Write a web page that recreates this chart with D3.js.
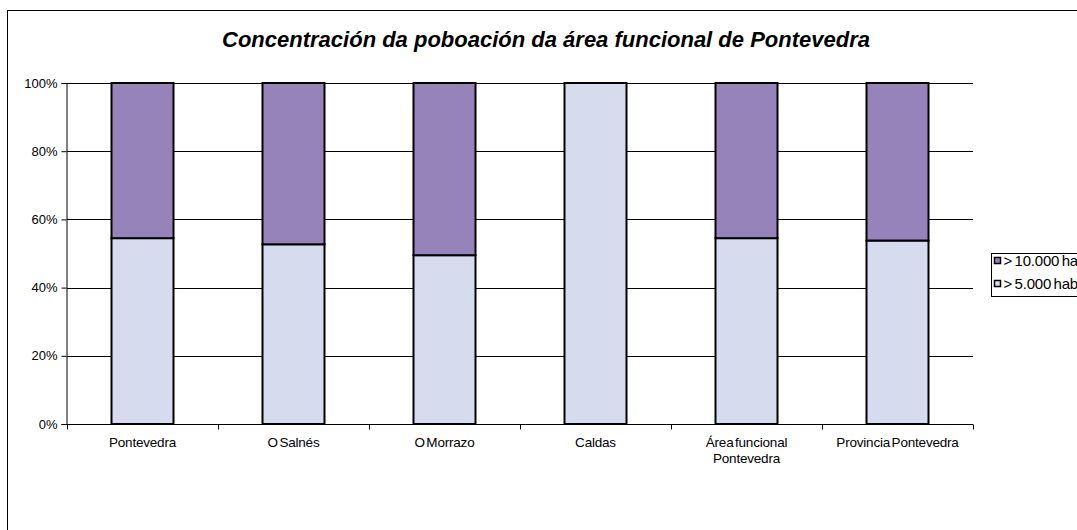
<!DOCTYPE html>
<html>
<head>
<meta charset="utf-8">
<script src="https://cdn.jsdelivr.net/npm/d3@7"></script>
<style>
  body { margin: 0; background: #fff; }
  svg { font-family: "Liberation Sans", Arial, sans-serif; display: block; }
</style>
</head>
<body>
<div id="chart"></div>
<script>
// Data (share of population, %)
const categories = ["Pontevedra", "O Salnés", "O Morrazo", "Caldas", "Área funcional Pontevedra", "Provincia Pontevedra"];
const over5000 = [54.5, 52.7, 49.5, 100, 54.5, 53.8];
const over10000 = [45.5, 47.3, 50.5, 0, 45.5, 46.2];
const seriesNames = ["> 10.000 hab", "> 5.000 hab"];
const yTicks = [0, 20, 40, 60, 80, 100];

const width = 1077;
const height = 530;
const margin = { top: 83, left: 67 };
const plotW = 906;
const plotH = 341;

const colors = { low: "#d6dcee", high: "#9683ba" };

const svg = d3.select("#chart")
    .append("svg")
    .attr("width", width)
    .attr("height", height);

// Outer chart frame (runs past the right and bottom edges)
svg.append("rect")
    .attr("x", 7.5)
    .attr("y", 10.5)
    .attr("width", 1200)
    .attr("height", 600)
    .attr("fill", "none")
    .attr("stroke", "#000")
    .attr("stroke-width", 1);

svg.append("text")
    .attr("x", 546)
    .attr("y", 47)
    .attr("text-anchor", "middle")
    .style("font-size", "22px")
    .style("font-weight", "bold")
    .style("font-style", "italic")
    .text("Concentración da poboación da área funcional de Pontevedra");

const g = svg.append("g")
    .attr("transform", `translate(${margin.left}, ${margin.top})`);

const x = d3.scaleBand().domain(categories).range([0, plotW]);
const y = d3.scaleLinear().domain([0, 100]).range([plotH, 0]);

// Gridlines
g.selectAll("line.grid")
    .data(yTicks.filter(d => d > 0))
    .enter()
    .append("line")
    .attr("class", "grid")
    .attr("x1", 0)
    .attr("x2", plotW)
    .attr("y1", d => Math.round(y(d)) + 0.5)
    .attr("y2", d => Math.round(y(d)) + 0.5)
    .attr("stroke", "#000")
    .attr("stroke-width", 1);

// Stacked bars
const barW = 62;
const stackData = categories.map((c, i) => ({ cat: c, low: over5000[i], high: over10000[i] }));

const bars = g.selectAll("g.bar")
    .data(stackData)
    .enter()
    .append("g")
    .attr("class", "bar")
    .attr("transform", d => `translate(${x(d.cat) + x.bandwidth() / 2 - barW / 2}, 0)`);

bars.append("rect")
    .attr("x", 0)
    .attr("y", d => y(d.low))
    .attr("width", barW)
    .attr("height", d => y(0) - y(d.low))
    .attr("fill", colors.low)
    .attr("stroke", "#000")
    .attr("stroke-width", 2);

bars.filter(d => d.high > 0)
    .append("rect")
    .attr("x", 0)
    .attr("y", d => y(d.low + d.high))
    .attr("width", barW)
    .attr("height", d => y(d.low) - y(d.low + d.high))
    .attr("fill", colors.high)
    .attr("stroke", "#000")
    .attr("stroke-width", 2);

// Axes
const yAxis = d3.axisLeft(y)
    .tickValues(yTicks)
    .tickFormat(d => d + "%")
    .tickSize(5)
    .tickPadding(4);

const yG = g.append("g").attr("transform", "translate(-0.5, 0)").call(yAxis);
yG.select(".domain").attr("stroke", "#000");
yG.selectAll("text").style("font-size", "13px").attr("fill", "#000");

const xG = g.append("g").attr("transform", `translate(0, ${y(0) + 0.5})`);
xG.append("line")
    .attr("x1", 0).attr("x2", plotW)
    .attr("stroke", "#000");
xG.selectAll("line.tick")
    .data(d3.range(categories.length + 1))
    .enter()
    .append("line")
    .attr("class", "tick")
    .attr("x1", i => i * x.step() + 0.5)
    .attr("x2", i => i * x.step() + 0.5)
    .attr("y1", 0)
    .attr("y2", 5)
    .attr("stroke", "#000");

const xLabels = {
    "Área funcional Pontevedra": ["Área funcional", "Pontevedra"]
};
xG.selectAll("text.cat")
    .data(categories)
    .enter()
    .append("text")
    .attr("class", "cat")
    .attr("text-anchor", "middle")
    .attr("x", d => x(d) + x.bandwidth() / 2)
    .attr("y", 22)
    .style("font-size", "13.5px")
    .style("letter-spacing", "-0.2px")
    .style("word-spacing", "-2px")
    .each(function(d) {
        const lines = xLabels[d] || [d];
        d3.select(this).selectAll("tspan")
            .data(lines)
            .enter()
            .append("tspan")
            .attr("x", x(d) + x.bandwidth() / 2)
            .attr("dy", (l, i) => i === 0 ? 0 : 16)
            .text(l => l);
    });

// Legend
const legend = svg.append("g").attr("transform", "translate(991.5, 253.5)");
legend.append("rect")
    .attr("width", 120)
    .attr("height", 43)
    .attr("fill", "#fff")
    .attr("stroke", "#000");

const legendItems = [
    { name: seriesNames[0], color: colors.high },
    { name: seriesNames[1], color: colors.low }
];
legendItems.forEach((d, i) => {
    legend.append("rect")
        .attr("x", 3)
        .attr("y", 4 + i * 23)
        .attr("width", 6)
        .attr("height", 6)
        .attr("fill", d.color)
        .attr("stroke", "#000")
        .attr("stroke-width", 1.5);
    legend.append("text")
        .attr("x", 12)
        .attr("y", 12 + i * 23)
        .style("font-size", "15px")
        .style("letter-spacing", "-0.2px")
        .style("word-spacing", "-1.5px")
        .text(d.name);
});
</script>
</body>
</html>
